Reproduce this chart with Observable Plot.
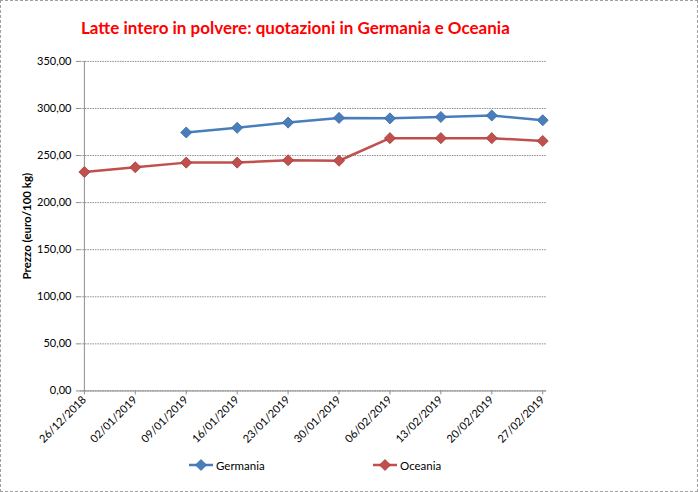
<!DOCTYPE html>
<html>
<head>
<meta charset="utf-8">
<script src="https://cdn.jsdelivr.net/npm/d3@7"></script>
<script src="https://cdn.jsdelivr.net/npm/@observablehq/plot@0.6"></script>
<style>
  html, body { margin: 0; padding: 0; background: #fff; }
  #wrap { position: relative; width: 698px; height: 492px; box-sizing: border-box; border: 1px dashed #a0a0a0; overflow: hidden; font-family: Lato, sans-serif; }
  #chart { position: absolute; left: -1px; top: -1px; }
  #title { position: absolute; left: 80px; top: 16px; color: #ff0000; font-family: Lato, sans-serif; font-weight: bold; font-size: 17px; white-space: nowrap; }
  .leg { position: absolute; top: 457px; font-family: Lato, sans-serif; font-size: 11.5px; color: #000; display: flex; align-items: center; }
  .leg svg { margin-right: 3px; }
</style>
</head>
<body>
<div id="wrap">
  <div id="chart"></div>
  <div id="title">Latte intero in polvere: quotazioni in Germania e Oceania</div>
  <div id="legend"></div>
</div>
<script>
const dates = ["26/12/2018","02/01/2019","09/01/2019","16/01/2019","23/01/2019","30/01/2019","06/02/2019","13/02/2019","20/02/2019","27/02/2019"];
const germania = [null, null, 274.5, 279.5, 285, 290, 289.5, 291, 292.5, 287.5];
const oceania = [232.5, 237.5, 242.5, 242.5, 245, 244.5, 268.5, 268.5, 268.5, 265.5];
const seriesNames = ["Germania", "Oceania"];
const seriesColors = ["#4a7ebb", "#c0504d"];
const seriesStroke = ["#3a6aa5", "#a33c39"];
const yTicks = [0, 50, 100, 150, 200, 250, 300, 350];

const rows = [];
[germania, oceania].forEach((vals, si) => {
  vals.forEach((v, i) => { if (v != null) rows.push({date: dates[i], value: v, series: seriesNames[si]}); });
});

const fmt = d => d.toFixed(2).replace(".", ",");

const chart = Plot.plot({
  width: 698,
  height: 492,
  marginLeft: 80,
  marginRight: 151,
  marginTop: 61,
  marginBottom: 101,
  style: {fontFamily: "Lato, sans-serif", fontSize: "11px", color: "#000", background: "transparent"},
  x: {type: "point", domain: dates, padding: 0, label: null, insetLeft: 0, insetRight: 0},
  y: {domain: [0, 350], label: null, insetTop: 0, insetBottom: 0},
  color: {domain: seriesNames, range: seriesColors},
  marks: [
    Plot.gridY(yTicks, {stroke: "#8c8c8c", strokeOpacity: 1, strokeWidth: 1, strokeDasharray: "1.5,1"}),
    Plot.ruleY([0], {stroke: "#8c8c8c", strokeWidth: 1}),
    Plot.ruleX([dates[0]], {stroke: "#8c8c8c", strokeWidth: 1}),
    Plot.axisY(yTicks, {tickFormat: fmt, tickSize: 4, tickPadding: 5, stroke: "#8c8c8c", fill: "#000", label: null}),
    Plot.axisX({tickSize: 4, tickRotate: -45, tickPadding: 3, stroke: "#8c8c8c", fill: "#000", label: null}),
    Plot.text(["Prezzo (euro/100 kg)"], {frameAnchor: "left", textAnchor: "middle", dx: -53, rotate: -90, fontWeight: "bold", fontSize: 11.5, fill: "#000"}),
    Plot.line(rows, {x: "date", y: "value", z: "series", stroke: "series", strokeWidth: 2.5}),
    Plot.dot(rows, {x: "date", y: "value", symbol: "diamond2", r: 5, fill: "series", stroke: d => seriesStroke[seriesNames.indexOf(d.series)], strokeWidth: 0.8})
  ]
});
document.getElementById("chart").appendChild(chart);

const legend = document.getElementById("legend");
const legX = [188, 372];
seriesNames.forEach((name, i) => {
  const div = document.createElement("div");
  div.className = "leg";
  div.style.left = legX[i] + "px";
  div.innerHTML = `<svg width="24" height="14"><line x1="0" y1="7" x2="24" y2="7" stroke="${seriesColors[i]}" stroke-width="2.5"/><path d="M12,1.5L17.5,7L12,12.5L6.5,7Z" fill="${seriesColors[i]}" stroke="${seriesStroke[i]}" stroke-width="0.8"/></svg><span>${name}</span>`;
  legend.appendChild(div);
});
</script>
</body>
</html>
